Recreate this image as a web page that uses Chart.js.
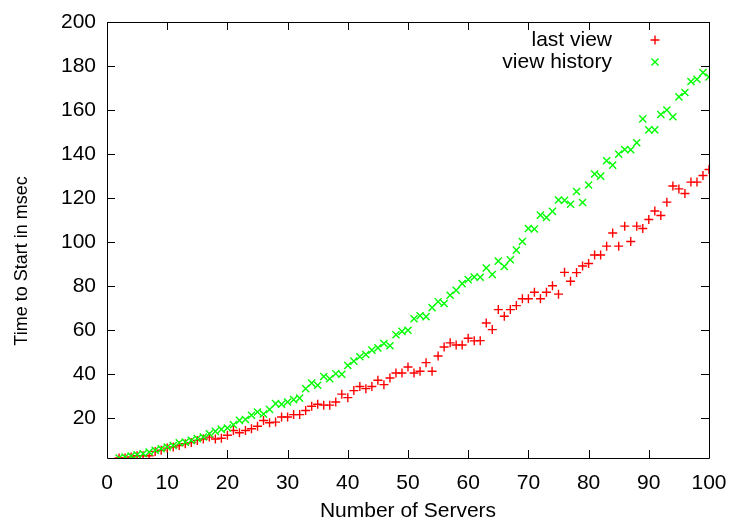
<!DOCTYPE html>
<html>
<head>
<meta charset="utf-8">
<script src="https://cdn.jsdelivr.net/npm/chart.js@4.4.1/dist/chart.umd.min.js"></script>
<style>
  html, body { margin: 0; padding: 0; background: #ffffff; }
  #wrap { width: 730px; height: 520px; }
</style>
</head>
<body>
<div id="wrap"><canvas id="c" width="730" height="520"></canvas></div>
<script>
const servers = [2,3,4,5,6,7,8,9,10,11,12,13,14,15,16,17,18,19,20,21,22,23,24,25,26,27,28,29,30,31,32,33,34,35,36,37,38,39,40,41,42,43,44,45,46,47,48,49,50,51,52,53,54,55,56,57,58,59,60,61,62,63,64,65,66,67,68,69,70,71,72,73,74,75,76,77,78,79,80,81,82,83,84,85,86,87,88,89,90,91,92,93,94,95,96,97,98,99,100];

const lastView = [2,2,2.5,3,3,3,5,5.5,6.5,7,7.7,8.5,9,10,10.6,11.5,10.6,11,12.3,14.5,13.5,14.5,15.3,16.4,19,18,18.3,20.6,20.6,21.7,21.7,23.6,25.5,26.4,26,26,27.4,31,29.4,32.6,34.5,33.5,34.5,37.3,35.3,38.3,40.6,40.6,43.3,40.6,41.4,45.3,41.4,48.3,52.4,54.3,53.3,53.3,56.4,55.2,55.3,63.3,60.3,69.4,66.4,69.4,71.2,74.3,74.3,77.3,74.3,77.3,80.2,76.4,86.3,82.3,86.2,89.2,90.3,94.2,94.2,98.2,104.2,98.2,107.3,100.3,107.3,106.2,110.3,114.2,112.1,118.2,125.5,124.2,122.1,127.3,127.3,130.3,133];

const viewHistory = [2,2.4,2.9,3.5,3.9,4.7,5.5,6.2,7,7.7,8.9,9.2,10,10.8,11.5,13,14.1,15,15.6,17.1,19.1,19.5,21.4,22.9,22,24,26.7,26.4,27.4,28.5,29.2,33.5,36,35,39,38,40.3,40,44,46,48,49,51,52,54,53,58,59.5,60,65.2,66.6,66.2,70.3,73,72.2,75.9,78.2,81.2,83,84.2,84.1,88.3,85.3,91.4,89,92,96.4,100.3,106.2,106,112.3,111.2,114,119.2,119,117.2,123,118,126,131,130,137,135,140,142.1,142,145.2,156,151,151,158,160,157,166,168,173,174,177,175];

const xTicks = [0,10,20,30,40,50,60,70,80,90,100];
const yTicks = [20,40,60,80,100,120,140,160,180,200];

const seriesNames = ['last view', 'view history'];
const seriesColors = ['#ff0000', '#00ff00'];
const seriesStyles = ['cross', 'crossRot'];
const xTitle = 'Number of Servers';
const yTitle = 'Time to Start in msec';

const FONT = "'Liberation Sans', Arial, Helvetica, sans-serif";
const FS = 21;

const framePlugin = {
  id: 'frame',
  beforeDatasetsDraw(chart) {
    const {ctx, chartArea: a, scales} = chart;
    ctx.save();
    ctx.strokeStyle = '#000000';
    ctx.lineWidth = 1;
    ctx.beginPath();
    ctx.rect(Math.round(a.left) + 0.5, Math.round(a.top) + 0.5,
             Math.round(a.right - a.left), Math.round(a.bottom - a.top));
    const tl = 8;
    scales.x.ticks.forEach(t => {
      const px = Math.round(scales.x.getPixelForValue(t.value)) + 0.5;
      ctx.moveTo(px, a.bottom); ctx.lineTo(px, a.bottom - tl);
      ctx.moveTo(px, a.top); ctx.lineTo(px, a.top + tl);
    });
    scales.y.ticks.forEach(t => {
      const py = Math.round(scales.y.getPixelForValue(t.value)) + 0.5;
      ctx.moveTo(a.left, py); ctx.lineTo(a.left + tl, py);
      ctx.moveTo(a.right, py); ctx.lineTo(a.right - tl, py);
    });
    ctx.stroke();
    // vertical axis title
    ctx.fillStyle = '#000000';
    ctx.font = '18px ' + FONT;
    ctx.textAlign = 'center';
    ctx.textBaseline = 'middle';
    ctx.translate(22, 261);
    ctx.rotate(-Math.PI / 2);
    ctx.fillText(yTitle, 0, 0);
    ctx.restore();
  }
};

const keyPlugin = {
  id: 'key',
  afterDatasetsDraw(chart) {
    const {ctx} = chart;
    ctx.save();
    ctx.font = FS + 'px ' + FONT;
    ctx.textAlign = 'right';
    ctx.textBaseline = 'middle';
    chart.data.datasets.forEach((ds, i) => {
      const y = 40 + i * 22;
      ctx.fillStyle = '#000000';
      ctx.fillText(ds.label, 612, y);
      ctx.strokeStyle = ds.borderColor;
      ctx.fillStyle = ds.borderColor;
      ctx.lineWidth = ds.pointBorderWidth;
      Chart.helpers.drawPoint(ctx, {pointStyle: ds.pointStyle, radius: ds.pointRadius, rotation: 0, borderWidth: ds.pointBorderWidth}, 655, y);
    });
    ctx.restore();
  }
};

const datasets = [lastView, viewHistory].map((vals, i) => ({
  label: seriesNames[i],
  data: servers.map((s, k) => ({x: s, y: vals[k]})),
  showLine: false,
  pointStyle: seriesStyles[i],
  pointRadius: i === 0 ? 4.5 : 5,
  pointHoverRadius: i === 0 ? 4.5 : 5,
  borderColor: seriesColors[i],
  backgroundColor: seriesColors[i],
  pointBorderWidth: 1.4,
  order: 1 - i
}));

new Chart(document.getElementById('c'), {
  type: 'scatter',
  data: { datasets },
  options: {
    responsive: false,
    animation: false,
    layout: { padding: { top: 22, right: 21, left: 0, bottom: 0 } },
    plugins: {
      legend: { display: false },
      tooltip: { enabled: false }
    },
    scales: {
      x: {
        type: 'linear', min: 0, max: 100,
        afterBuildTicks: s => { s.ticks = xTicks.map(v => ({value: v})); },
        afterFit: s => { s.height = 62; s.paddingLeft = 0; s.paddingRight = 0; },
        grid: { display: false, drawTicks: false },
        border: { display: false },
        ticks: { color: '#000', font: { family: FONT, size: FS }, padding: 13, maxRotation: 0, autoSkip: false },
        title: { display: true, text: xTitle, color: '#000',
                 font: { family: FONT, size: FS, lineHeight: 1 }, padding: { top: 0, bottom: -2 } }
      },
      y: {
        type: 'linear', min: 2, max: 200,
        afterBuildTicks: s => { s.ticks = yTicks.map(v => ({value: v})); },
        afterFit: s => { s.width = 107; s.paddingTop = 0; s.paddingBottom = 0; },
        grid: { display: false, drawTicks: false },
        border: { display: false },
        ticks: { color: '#000', font: { family: FONT, size: FS }, padding: 11, autoSkip: false },
        title: { display: false }
      }
    }
  },
  plugins: [framePlugin, keyPlugin]
});
</script>
</body>
</html>
